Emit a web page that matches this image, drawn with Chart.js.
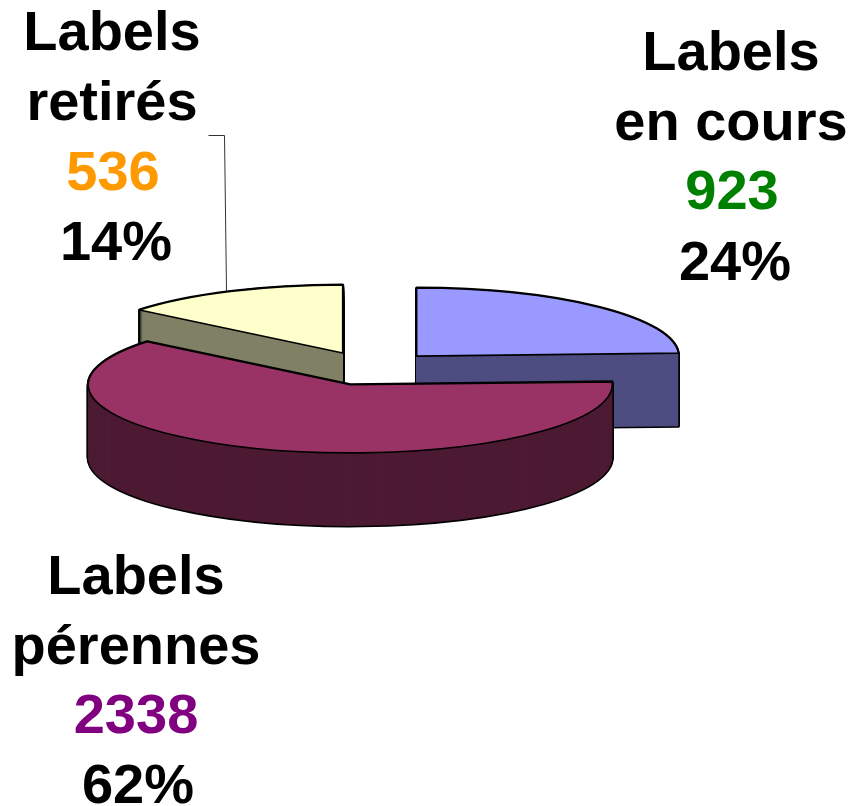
<!DOCTYPE html>
<html>
<head>
<meta charset="utf-8">
<title>Labels</title>
<style>html,body{margin:0;padding:0;background:#fff}canvas{display:block}</style>
<script src="https://cdn.jsdelivr.net/npm/chart.js@4/dist/chart.umd.min.js"></script>
</head>
<body>
<canvas id="c" width="850" height="806"></canvas>
<script>
const categories = ['Labels en cours', 'Labels pérennes', 'Labels retirés'];
const values = [923, 2338, 536];
const percents = ['24%', '62%', '14%'];
const topColors = ['#9999ff', '#993366', '#ffffcc'];
const wallColors = ['#4d4d80', '#4d1a33', '#808066'];
const valueColors = ['#008000', '#800080', '#ff9900'];
const labelLines = [['Labels', 'en cours'], ['Labels', 'pérennes'], ['Labels', 'retirés']];

const SQUASH = 0.26, DEPTH = 73, CENTER_X = 371, CENTER_Y = 368.5, EXPLODE = 66;
const LABEL_POS = [
  {x: [731, 731, 732, 735], y: [70, 140, 209, 280]},
  {x: [136, 136, 136, 138], y: [594, 664, 733, 803]},
  {x: [112, 112, 113, 116], y: [50, 120, 190, 260]}
];
const DRAW_ORDER = [2, 0, 1];

function sliceCentre(arc, dy) {
  const half = (arc.startAngle + arc.endAngle) / 2;
  return {
    x: CENTER_X + Math.cos(half) * EXPLODE,
    y: CENTER_Y + Math.sin(half) * EXPLODE * SQUASH + dy
  };
}
function shape(ctx, arc, dy) {
  const c = sliceCentre(arc, dy);
  ctx.beginPath();
  ctx.moveTo(c.x, c.y);
  ctx.ellipse(c.x, c.y, arc.outerRadius, arc.outerRadius * SQUASH, 0, arc.startAngle, arc.endAngle);
  ctx.closePath();
}
function fillArc(ctx, arc, color, dy) {
  const original = arc.options;
  arc.options = Object.create(original, {backgroundColor: {value: color}});
  const c = sliceCentre(arc, dy);
  ctx.save();
  ctx.translate(c.x, c.y);
  ctx.scale(1, SQUASH);
  ctx.translate(-arc.x, -arc.y);
  arc.draw(ctx);
  ctx.restore();
  arc.options = original;
}

const pie3d = {
  id: 'pie3d',
  beforeDatasetDraw(chart) {
    const ctx = chart.ctx;
    const arcs = chart.getDatasetMeta(0).data;
    ctx.strokeStyle = '#000';
    ctx.lineJoin = 'round';
    DRAW_ORDER.forEach(i => {
      const arc = arcs[i];
      ctx.lineWidth = 3;
      for (let d = DEPTH; d >= 0; d--) { shape(ctx, arc, d); ctx.stroke(); }
      for (let d = DEPTH; d >= 1; d--) fillArc(ctx, arc, wallColors[i], d);
      fillArc(ctx, arc, topColors[i], 0);
      ctx.lineWidth = 1.6;
      shape(ctx, arc, 0);
      ctx.stroke();
    });
    return false;
  },
  afterDraw(chart) {
    const ctx = chart.ctx;
    ctx.save();
    ctx.strokeStyle = '#333';
    ctx.lineWidth = 1;
    ctx.beginPath();
    ctx.moveTo(208.5, 135.5);
    ctx.lineTo(224.5, 135.5);
    ctx.lineTo(226.5, 291);
    ctx.stroke();
    ctx.font = 'bold 56px "Liberation Sans", Arial, sans-serif';
    ctx.textAlign = 'center';
    ctx.textBaseline = 'alphabetic';
    categories.forEach((name, i) => {
      const p = LABEL_POS[i];
      ctx.fillStyle = '#000';
      ctx.fillText(labelLines[i][0], p.x[0], p.y[0]);
      ctx.fillText(labelLines[i][1], p.x[1], p.y[1]);
      ctx.fillStyle = valueColors[i];
      ctx.fillText(String(values[i]), p.x[2], p.y[2]);
      ctx.fillStyle = '#000';
      ctx.fillText(percents[i], p.x[3], p.y[3]);
    });
    ctx.restore();
  }
};

new Chart(document.getElementById('c'), {
  type: 'pie',
  data: {
    labels: categories,
    datasets: [{data: values, backgroundColor: topColors, borderWidth: 0}]
  },
  options: {
    responsive: false,
    animation: false,
    radius: 262,
    events: [],
    plugins: {legend: {display: false}, tooltip: {enabled: false}, title: {display: false}}
  },
  plugins: [pie3d]
});
</script>
</body>
</html>
